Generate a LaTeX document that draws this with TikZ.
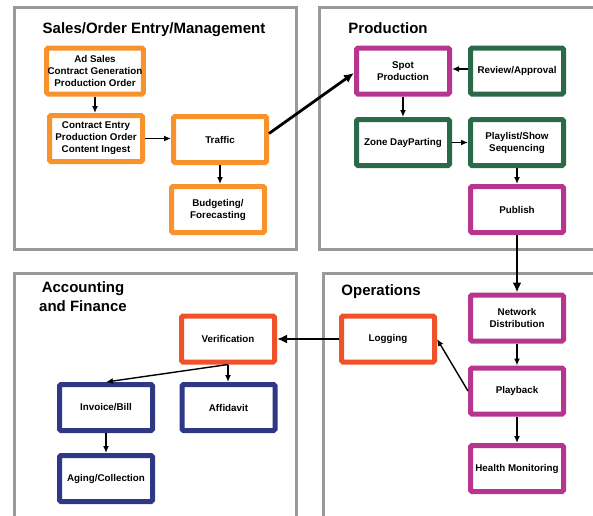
\documentclass[tikz,border=0pt]{standalone}
\usepackage{fontspec}
\setmainfont{Liberation Sans}
\usetikzlibrary{arrows.meta,calc}
\definecolor{orangeC}{HTML}{F7922D}
\definecolor{magC}{HTML}{B8358F}
\definecolor{greenC}{HTML}{2A6A48}
\definecolor{redC}{HTML}{EF5128}
\definecolor{navyC}{HTML}{2E3884}
\definecolor{grayC}{HTML}{9A9A9A}
\begin{document}
\begin{tikzpicture}[x=1pt,y=-1pt,
 panel/.style={draw=grayC, line width=3pt},
 box/.style={draw=#1, line width=5pt, fill=white, minimum width=93pt, minimum height=46pt, align=center, inner sep=1pt, font=\fontsize{9.8}{12}\selectfont\bfseries, rounded corners=1.5pt},
 title/.style={font=\fontsize{15}{19}\selectfont\bfseries, align=center, inner sep=0pt},
 thinarr/.style={-{Latex[length=7pt,width=6pt]}, line width=1.4pt},
 thickarr/.style={-{Latex[length=10pt,width=9pt]}, line width=2.8pt}]
\useasboundingbox (0,0) rectangle (593,515);
\clip (0,0) rectangle (593,515);
% panels
\draw[panel] (14.5,7.5) rectangle (296.5,249.5);
\draw[panel] (319.5,7.5) rectangle (610,249.5);
\draw[panel] (14.5,273.5) rectangle (296.5,530);
\draw[panel] (323.5,273.5) rectangle (610,530);
% titles
\node[title] (t1) at (154,30) {Sales/Order Entry/Management};
\node[title] (t2) at (388,28) {Production};
\node[title] (t3) at (83,297) {Accounting\\and Finance};
\node[title] (t4) at (381,292) {Operations};
% boxes
\node[box=orangeC] (adsales) at (95,71) {Ad Sales\\Contract Generation\\Production Order};
\node[box=orangeC] (contract) at (96,138.5) {Contract Entry\\Production Order\\Content Ingest};
\node[box=orangeC] (traffic) at (220,139.5) {Traffic};
\node[box=orangeC] (budget) at (218,209.5) {Budgeting/\\Forecasting};
\node[box=magC] (spot) at (403,71) {Spot\\Production};
\node[box=greenC] (review) at (517,71) {Review/Approval};
\node[box=greenC] (zone) at (403,142.5) {Zone DayParting};
\node[box=greenC] (playlist) at (517,142.5) {Playlist/Show\\Sequencing};
\node[box=magC] (publish) at (517,209.5) {Publish};
\node[box=redC] (logging) at (388,339) {Logging};
\node[box=magC] (network) at (517,318) {Network\\Distribution};
\node[box=magC] (playback) at (517,391) {Playback};
\node[box=magC] (health) at (517,468.5) {Health Monitoring};
\node[box=redC] (verif) at (228,339) {Verification};
\node[box=navyC] (invoice) at (106,407.5) {Invoice/Bill};
\node[box=navyC] (affidavit) at (228.5,407.5) {Affidavit};
\node[box=navyC] (aging) at (106,478.5) {Aging/Collection};
% connectors
\draw[thinarr] (adsales.south) -- (adsales.south |- contract.north);
\draw[thinarr] (contract.east) -- (contract.east -| traffic.west);
\draw[thinarr] (traffic.south) -- (traffic.south |- budget.north);
\draw[thickarr] ($(traffic.east)+(0,-6)$) -- ($(spot.west)+(0,2)$);
\draw[thinarr] ($(review.west)+(0,-2)$) -- ($(spot.east)+(0,-2)$);
\draw[thinarr] (spot.south) -- (spot.south |- zone.north);
\draw[thinarr] (zone.east) -- (zone.east -| playlist.west);
\draw[thinarr] (playlist.south) -- (playlist.south |- publish.north);
\draw[thickarr] (publish.south) -- (publish.south |- network.north);
\draw[thinarr] (network.south) -- (network.south |- playback.north);
\draw[thinarr] (playback.south) -- (playback.south |- health.north);
\draw[thinarr] (playback.west) -- (logging.east);
\draw[thickarr] (logging.west) -- (logging.west -| verif.east);
\draw[thinarr] (verif.south) -- (invoice.north);
\draw[thinarr] (verif.south) -- (verif.south |- affidavit.north);
\draw[thinarr] (invoice.south) -- (invoice.south |- aging.north);
\end{tikzpicture}
\end{document}
